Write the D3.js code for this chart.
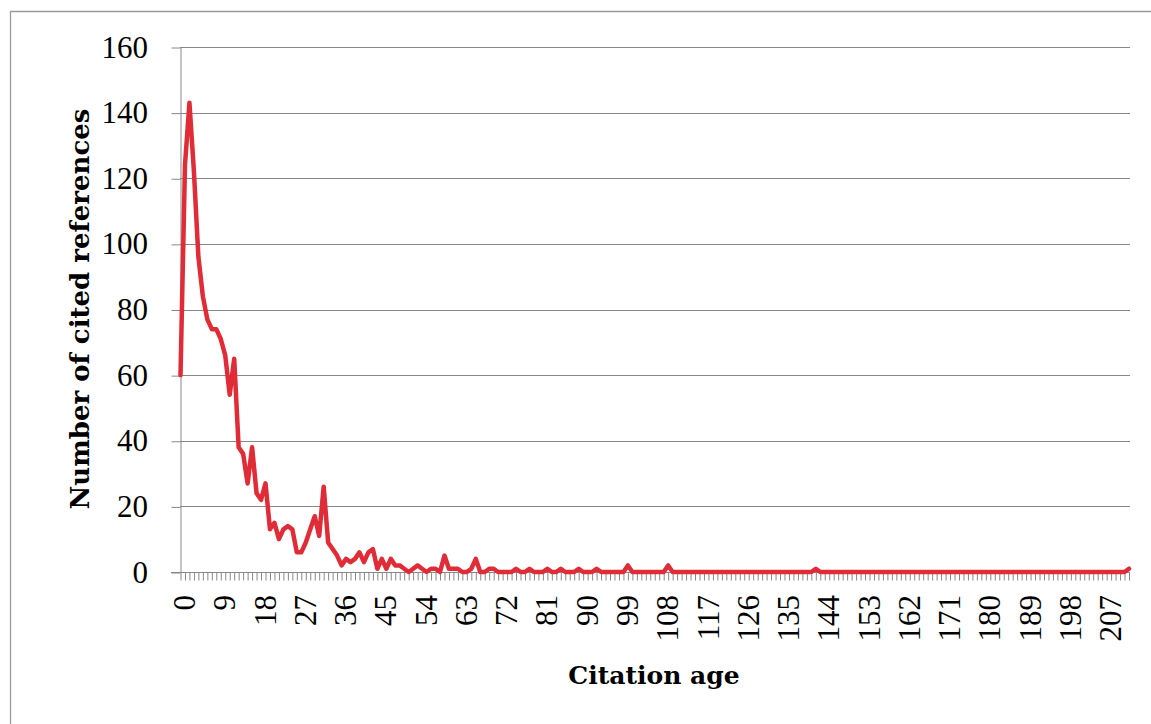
<!DOCTYPE html>
<html>
<head>
<meta charset="utf-8">
<script src="https://cdn.jsdelivr.net/npm/d3@7"></script>
<style>
  html, body { margin: 0; padding: 0; background: #fff; }
  svg { display: block; }
</style>
</head>
<body>
<svg id="chart" width="1151" height="724"></svg>
<script>
// ---- data ----
const counts = [
  60,124,143,122,96,84,77,74,74,71,   // 0-9
  66,54,65,38,36,27,38,24,22,27,      // 10-19
  13,15,10,13,14,13,6,6,9,13,         // 20-29
  17,11,26,9,7,5,2,4,3,4,             // 30-39
  6,3,6,7,1,4,1,4,2,2,                // 40-49
  1,0,1,2,1,0,1,1,0,5,                // 50-59
  1,1,1,0,0,1,4,0,0,1,                // 60-69
  1,0,0,0,0,1,0,0,1,0,                // 70-79
  0,0,1,0,0,1,0,0,0,1,                // 80-89
  0,0,0,1,0,0,0,0,0,0,                // 90-99
  2,0,0,0,0,0,0,0,0,2,                // 100-109
  0,0,0,0,0,0,0,0,0,0,                // 110-119
  0,0,0,0,0,0,0,0,0,0,                // 120-129
  0,0,0,0,0,0,0,0,0,0,                // 130-139
  0,0,1,0,0,0,0,0,0,0,                // 140-149
  0,0,0,0,0,0,0,0,0,0,                // 150-159
  0,0,0,0,0,0,0,0,0,0,                // 160-169
  0,0,0,0,0,0,0,0,0,0,                // 170-179
  0,0,0,0,0,0,0,0,0,0,                // 180-189
  0,0,0,0,0,0,0,0,0,0,                // 190-199
  0,0,0,0,0,0,0,0,0,0,                // 200-209
  0,0,1                               // 210-212
];
const ages = counts.map((_, i) => i);
const xTickLabels = [0,9,18,27,36,45,54,63,72,81,90,99,108,117,126,135,144,153,162,171,180,189,198,207];
const yTicks = [0,20,40,60,80,100,120,140,160];
const xTitle = "Citation age";
const yTitle = "Number of cited references";

(function draw() {
  const svg = d3.select("#chart");
  const plotL = 180.5, plotR = 1129, plotT = 47, plotB = 572;
  const gridColor = "#888888";
  const lineColor = "#df2c36";

  const x = d3.scalePoint().domain(ages).range([plotL, plotR]);
  const y = d3.scaleLinear().domain([0, 160]).range([plotB, plotT]);

  // frame
  svg.append("path")
    .attr("d", "M10.5,724 V11.5 H1151")
    .attr("fill", "none").attr("stroke", "#9a9a9a").attr("stroke-width", 1.3);

  // gridlines
  svg.append("g").selectAll("line").data(yTicks.filter(d => d > 0)).join("line")
    .attr("x1", 180).attr("x2", 1130)
    .attr("y1", d => Math.round(y(d)) + 0.5).attr("y2", d => Math.round(y(d)) + 0.5)
    .attr("stroke", gridColor).attr("stroke-width", 1);

  // y axis
  const yAxis = d3.axisLeft(y).tickValues(yTicks).tickSize(9).tickSizeOuter(0).tickFormat("");
  const gy = svg.append("g").attr("transform", "translate(180.5,0.5)").call(yAxis);
  gy.select(".domain").attr("stroke", gridColor);
  gy.selectAll(".tick line").attr("stroke", gridColor);

  svg.append("g").selectAll("text").data(yTicks).join("text")
    .attr("x", 148).attr("y", d => y(d)).attr("dy", "0.34em")
    .attr("text-anchor", "end")
    .attr("font-family", "'Liberation Serif', serif").attr("font-size", 31)
    .attr("fill", "#000").text(d => d);

  // x axis (tick every category)
  const xAxis = d3.axisBottom(x).tickValues(ages).tickSize(8).tickSizeOuter(0).tickFormat("");
  const gx = svg.append("g").attr("transform", `translate(0,${plotB + 0.5})`).call(xAxis);
  gx.select(".domain").attr("stroke", gridColor).attr("d", "M171,0H1130");
  gx.selectAll(".tick line").attr("stroke", gridColor);

  svg.append("g").selectAll("text").data(xTickLabels).join("text")
    .attr("transform", d => `translate(${x(d) + 4},595) rotate(-90)`)
    .attr("dy", "0.34em")
    .attr("text-anchor", "end")
    .attr("font-family", "'Liberation Serif', serif").attr("font-size", 31)
    .attr("fill", "#000").text(d => d);

  // line
  const line = d3.line().x((d, i) => x(ages[i])).y(d => y(d));
  svg.append("path").datum(counts)
    .attr("d", line)
    .attr("fill", "none").attr("stroke", lineColor).attr("stroke-width", 4.5)
    .attr("stroke-linejoin", "round").attr("stroke-linecap", "round");

  // titles
  svg.append("text")
    .attr("x", 654).attr("y", 684)
    .attr("text-anchor", "middle")
    .attr("font-family", "'DejaVu Serif', serif").attr("font-weight", "bold").attr("font-size", 25)
    .attr("fill", "#000").text(xTitle);

  svg.append("text")
    .attr("transform", "translate(89,309) rotate(-90)")
    .attr("text-anchor", "middle")
    .attr("font-family", "'DejaVu Serif', serif").attr("font-weight", "bold").attr("font-size", 26)
    .attr("fill", "#000").text(yTitle);
})();
</script>
</body>
</html>
